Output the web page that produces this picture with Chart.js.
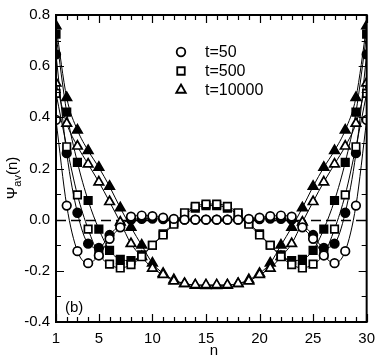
<!DOCTYPE html>
<html>
<head>
<meta charset="utf-8">
<script src="https://cdn.jsdelivr.net/npm/chart.js@4.4.0/dist/chart.umd.min.js"></script>
<style>
html,body{margin:0;padding:0;background:#fff;}
#wrap{width:383px;height:361px;}
</style>
</head>
<body>
<div id="wrap"><canvas id="c" width="383" height="361"></canvas></div>
<script>
const nValues = [1,2,3,4,5,6,7,8,9,10,11,12,13,14,15,16,17,18,19,20,21,22,23,24,25,26,27,28,29,30];
const xTickLabels = [1,5,10,15,20,25,30];
const yTickValues = [-0.4,-0.2,0.0,0.2,0.4,0.6,0.8];
const legendLabels = ['t=50','t=500','t=10000'];

const t50Open   = [0.39,0.055,-0.123,-0.17,-0.14,-0.075,-0.03,0.012,0.016,0.014,0.008,0.003,0.0,0.0,0.0,
                   0.0,0.0,0.0,0.003,0.008,0.014,0.016,0.012,-0.03,-0.075,-0.14,-0.17,-0.123,0.055,0.39];
const t50Filled = [0.646,0.26,0.027,-0.094,-0.11,-0.06,-0.02,0.0,0.003,0.004,0.002,0.0,0.0,0.0,0.0,
                   0.0,0.0,0.0,0.0,0.002,0.004,0.003,0.0,-0.02,-0.06,-0.11,-0.094,0.027,0.26,0.646];
const t500Open  = [0.494,0.285,0.097,-0.037,-0.136,-0.174,-0.189,-0.176,-0.145,-0.1,-0.06,-0.018,0.027,0.052,0.061,
                   0.061,0.052,0.027,-0.018,-0.06,-0.1,-0.145,-0.176,-0.189,-0.174,-0.136,-0.037,0.097,0.285,0.494];
const t500Filled= [0.725,0.42,0.224,0.075,-0.037,-0.12,-0.155,-0.16,-0.138,-0.1,-0.055,-0.012,0.02,0.045,0.055,
                   0.055,0.045,0.02,-0.012,-0.055,-0.1,-0.138,-0.16,-0.155,-0.12,-0.037,0.075,0.224,0.42,0.725];
const t10000Open  = [0.534,0.376,0.287,0.217,0.147,0.07,-0.01,-0.094,-0.145,-0.19,-0.215,-0.24,-0.25,-0.255,-0.255,
                     -0.255,-0.255,-0.25,-0.24,-0.215,-0.19,-0.145,-0.094,-0.01,0.07,0.147,0.217,0.287,0.376,0.534];
const t10000Filled= [0.757,0.477,0.35,0.27,0.204,0.13,0.046,-0.03,-0.1,-0.17,-0.21,-0.235,-0.25,-0.257,-0.258,
                     -0.258,-0.257,-0.25,-0.235,-0.21,-0.17,-0.1,-0.03,0.046,0.13,0.204,0.27,0.35,0.477,0.757];

function pts(arr){ return nValues.map((n,i)=>({x:n,y:arr[i]})); }
function ds(arr, style, filled, r){
  return {
    data: pts(arr), showLine:true, borderColor:'#000', borderWidth:1,
    cubicInterpolationMode:'monotone',
    pointStyle: style, pointRadius: r, pointHoverRadius: r,
    pointBorderColor:'#000', pointBorderWidth:1.7,
    pointBackgroundColor: filled ? '#000' : '#fff'
  };
}
const FONT = '"Liberation Sans", Arial, Helvetica, sans-serif';

const deco = {
  id:'deco',
  beforeDatasetsDraw(chart){
    const {ctx, chartArea:a, scales:{y}} = chart;
    ctx.save();
    ctx.setLineDash([10,5]); ctx.lineWidth = 1.3; ctx.strokeStyle = '#000';
    const py = Math.round(y.getPixelForValue(0)) + 0.5;
    ctx.beginPath(); ctx.moveTo(a.left, py); ctx.lineTo(a.right, py); ctx.stroke();
    ctx.restore();
  },
  afterDraw(chart){
    const {ctx, chartArea:a, scales:{x,y}} = chart;
    ctx.save();
    ctx.strokeStyle = '#000'; ctx.lineWidth = 1.2;
    ctx.beginPath();
    for (let n = 1; n <= 30; n++) {
      const px = Math.round(x.getPixelForValue(n)) + 0.5;
      const major = xTickLabels.includes(n);
      const L = major ? 8 : 5;
      ctx.moveTo(px, a.bottom); ctx.lineTo(px, a.bottom - L);
      ctx.moveTo(px, a.top); ctx.lineTo(px, a.top + L);
    }
    for (let k = -4; k <= 8; k++) {
      const v = k / 10;
      const py = Math.round(y.getPixelForValue(v)) + 0.5;
      const major = (k % 2 === 0);
      const L = major ? 8 : 5;
      ctx.moveTo(a.left, py); ctx.lineTo(a.left + L, py);
      ctx.moveTo(a.right, py); ctx.lineTo(a.right - L, py);
    }
    ctx.stroke();
    ctx.lineWidth = 2;
    ctx.strokeRect(a.left, a.top, a.right - a.left, a.bottom - a.top);

    const styles = ['circle','rect','triangle'];
    const radii = [4.3, 5.3, 5.5];
    const lx = 181, ly = [52, 71, 90];
    for (let i = 0; i < 3; i++) {
      ctx.fillStyle = '#fff'; ctx.strokeStyle = '#000'; ctx.lineWidth = 1.8;
      Chart.helpers.drawPoint(ctx, {pointStyle: styles[i], radius: radii[i], borderWidth:1.8}, lx, ly[i]);
      ctx.fillStyle = '#000';
      ctx.font = '16px ' + FONT; ctx.textBaseline = 'middle'; ctx.textAlign = 'left';
      ctx.fillText(legendLabels[i], 205, ly[i] + 1);
    }
    ctx.fillStyle = '#000';
    ctx.font = '15px ' + FONT; ctx.textBaseline = 'middle'; ctx.textAlign = 'left';
    ctx.fillText('(b)', 65, 308);
    ctx.textAlign = 'center';
    ctx.fillText('n', 214, 351);
    ctx.translate(13, 178);
    ctx.rotate(-Math.PI/2);
    ctx.textAlign = 'left'; ctx.textBaseline = 'middle';
    const big = '15px ' + FONT, small = '11px ' + FONT;
    ctx.font = big; const w1 = ctx.measureText('\u03A8').width;
    ctx.font = small; const w2 = ctx.measureText('av').width;
    ctx.font = big; const w3 = ctx.measureText('(n)').width;
    let sx = -(w1 + w2 + w3) / 2;
    ctx.font = big; ctx.fillText('\u03A8', sx, 0); sx += w1;
    ctx.font = small; ctx.fillText('av', sx, 5); sx += w2;
    ctx.font = big; ctx.fillText('(n)', sx, 0);
    ctx.restore();
  }
};

new Chart(document.getElementById('c'), {
  type: 'scatter',
  data: { datasets: [
    ds(t50Open, 'circle', false, 4.3),
    ds(t500Open, 'rect', false, 5.3),
    ds(t10000Open, 'triangle', false, 5.5),
    ds(t50Filled, 'circle', true, 4.3),
    ds(t500Filled, 'rect', true, 5.3),
    ds(t10000Filled, 'triangle', true, 5.5)
  ]},
  options: {
    responsive: false, animation: false, devicePixelRatio: 1,
    layout: { padding: { left: 0, right: 11, top: 7, bottom: 0 } },
    plugins: { legend: { display: false }, tooltip: { enabled: false } },
    scales: {
      x: {
        type: 'linear', min: 1, max: 30,
        afterBuildTicks: (s) => { s.ticks = xTickLabels.map(v => ({value: v})); },
        afterFit: (s) => { s.height = 39; },
        grid: { display: false, drawTicks: false },
        border: { display: false },
        ticks: { color: '#000', font: { size: 15, family: FONT }, padding: 8, maxRotation: 0, autoSkip: false }
      },
      y: {
        type: 'linear', min: -0.4, max: 0.8,
        afterBuildTicks: (s) => { s.ticks = yTickValues.map(v => ({value: v})); },
        afterFit: (s) => { s.width = 56; },
        grid: { display: false, drawTicks: false },
        border: { display: false },
        ticks: { color: '#000', font: { size: 15, family: FONT }, padding: 6,
          callback: (v) => (Math.abs(v) < 1e-9 ? 0 : v).toFixed(1) }
      }
    }
  },
  plugins: [deco]
});
</script>
</body>
</html>
